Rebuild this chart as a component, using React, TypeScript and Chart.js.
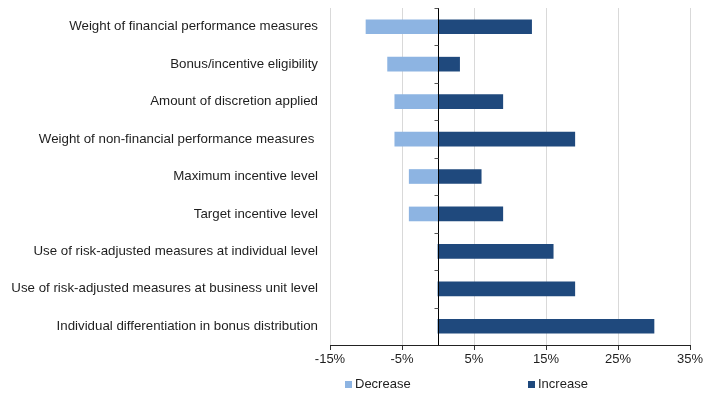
import React, { useEffect, useRef } from "react";
import { Chart, registerables } from "chart.js";

Chart.register(...registerables);

const categories = [
  "Weight of financial performance measures",
  "Bonus/incentive eligibility",
  "Amount of discretion applied",
  "Weight of non-financial performance measures ",
  "Maximum incentive level",
  "Target incentive level",
  "Use of risk-adjusted measures at individual level",
  "Use of risk-adjusted measures at business unit level",
  "Individual differentiation in bonus distribution",
];
const decreaseValues = [-10, -7, -6, -6, -4, -4, 0, 0, 0];
const increaseValues = [13, 3, 9, 19, 6, 9, 16, 19, 30];
const seriesLabels = ["Decrease", "Increase"];
const seriesColors = ["#8DB4E2", "#1F497D"];
const xMin = -15;
const xMax = 35;
const xStep = 10;

const FONT = "'Liberation Sans', Arial, sans-serif";
const TEXT = "#1e1e1e";

const overlayPlugin = {
  id: "overlay",
  afterDatasetsDraw(chart: any) {
    const { ctx, chartArea, scales } = chart;
    const x0 = Math.round(scales.x.getPixelForValue(0)) + 0.5;
    ctx.save();
    ctx.strokeStyle = "#000";
    ctx.lineWidth = 1;
    ctx.beginPath();
    ctx.moveTo(x0, chartArea.top);
    ctx.lineTo(x0, chartArea.bottom);
    ctx.stroke();
    const n = categories.length;
    const step = (chartArea.bottom - chartArea.top) / n;
    ctx.strokeStyle = "#555";
    for (let i = 0; i < n; i++) {
      const y = Math.round(chartArea.top + i * step) + 0.5;
      ctx.beginPath();
      ctx.moveTo(x0 - 4, y);
      ctx.lineTo(x0, y);
      ctx.stroke();
    }
    ctx.restore();
  },
  afterDraw(chart: any) {
    const { ctx } = chart;
    const xs = [345, 528];
    const yc = 384.5;
    ctx.save();
    ctx.font = `13px ${FONT}`;
    ctx.textBaseline = "middle";
    ctx.textAlign = "left";
    chart.data.datasets.forEach((ds: any, i: number) => {
      ctx.fillStyle = ds.backgroundColor;
      ctx.fillRect(xs[i], yc - 3.5, 7, 7);
      ctx.fillStyle = TEXT;
      ctx.fillText(ds.label, xs[i] + 10, yc);
    });
    ctx.restore();
  },
};

export default function App() {
  const ref = useRef<HTMLCanvasElement>(null);
  useEffect(() => {
    if (!ref.current) return;
    const chart = new Chart(ref.current, {
      type: "bar",
      data: {
        labels: categories,
        datasets: [
          {
            label: seriesLabels[0],
            data: decreaseValues,
            backgroundColor: seriesColors[0],
            barThickness: 14,
          },
          {
            label: seriesLabels[1],
            data: increaseValues,
            backgroundColor: seriesColors[1],
            barThickness: 14,
          },
        ],
      },
      options: {
        indexAxis: "y",
        animation: false,
        responsive: false,
        maintainAspectRatio: false,
        layout: { padding: { top: 8, right: 30, bottom: 45, left: 0 } },
        plugins: {
          legend: { display: false },
          tooltip: { enabled: false },
        },
        scales: {
          x: {
            type: "linear",
            stacked: true,
            min: xMin,
            max: xMax,
            ticks: {
              stepSize: xStep,
              callback: (v: any) => `${v}%`,
              font: { family: FONT, size: 13 },
              color: TEXT,
              padding: 2,
              maxRotation: 0,
            },
            grid: {
              color: "#D9D9D9",
              drawTicks: true,
              tickLength: 5,
              tickColor: "#333",
            },
            border: { display: true, color: "#222", width: 1 },
            afterFit: (s: any) => {
              s.height = 25;
              s.paddingLeft = 0;
              s.paddingRight = 0;
            },
          },
          y: {
            type: "category",
            stacked: true,
            grid: { display: false, drawTicks: false },
            border: { display: false },
            ticks: {
              font: { family: FONT, size: 13.3 },
              color: TEXT,
              padding: 12,
              autoSkip: false,
            },
            afterFit: (s: any) => {
              s.width = 330;
              s.paddingTop = 0;
              s.paddingBottom = 0;
            },
          },
        },
      },
      plugins: [overlayPlugin],
    });
    return () => chart.destroy();
  }, []);
  return (
    <div style={{ position: "absolute", left: 0, top: 0, width: 720, height: 415, background: "#fff" }}>
      <canvas ref={ref} width={720} height={415} style={{ width: 720, height: 415 }} />
    </div>
  );
}
